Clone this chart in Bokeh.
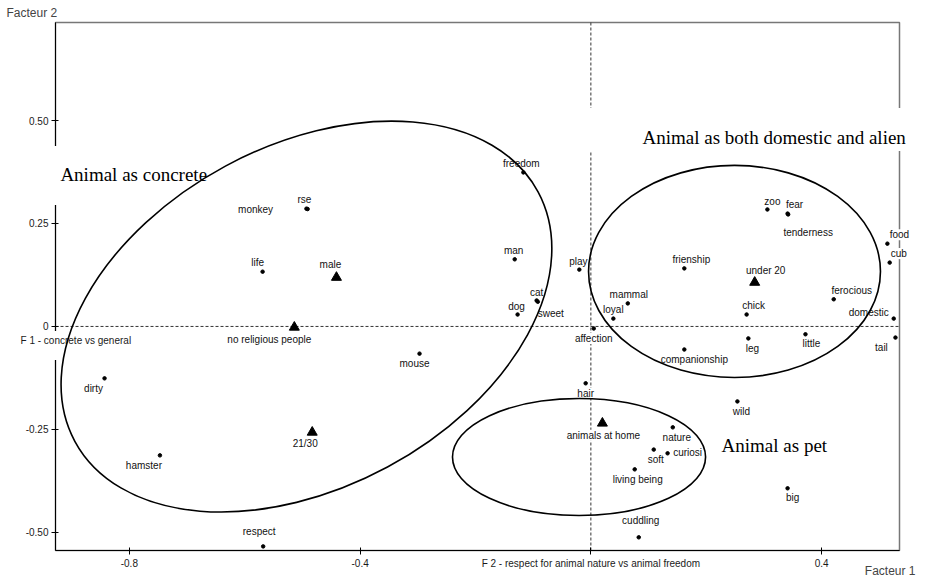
from bokeh.plotting import figure
from bokeh.models import Range1d, FixedTicker, Label, LabelSet, ColumnDataSource
from bokeh.core.properties import value
from bokeh.embed import file_html
from bokeh.resources import INLINE

# ---- data -------------------------------------------------------------
words = ["freedom", "man", "play", "cat", "dog", "sweet", "affection", "loyal", "mammal",
         "frienship", "companionship", "zoo", "fear", "tenderness", "food", "cub",
         "ferocious", "chick", "domestic", "leg", "little", "tail", "hair", "wild",
         "nature", "soft", "curiosi", "living being", "cuddling", "big", "rse", "monkey",
         "life", "mouse", "dirty", "hamster", "respect"]
word_x = [-0.117, -0.132, -0.020, -0.094, -0.127, -0.092, 0.005, 0.039, 0.064,
          0.162, 0.162, 0.306, 0.341, 0.342, 0.514, 0.518,
          0.421, 0.270, 0.525, 0.273, 0.372, 0.528, -0.009, 0.254,
          0.142, 0.109, 0.133, 0.076, 0.083, 0.341, -0.493, -0.491,
          -0.569, -0.297, -0.843, -0.747, -0.568]
word_y = [0.374, 0.163, 0.138, 0.063, 0.029, 0.060, -0.005, 0.019, 0.056,
          0.141, -0.056, 0.284, 0.274, 0.272, 0.201, 0.155,
          0.066, 0.029, 0.019, -0.029, -0.019, -0.027, -0.138, -0.182,
          -0.245, -0.299, -0.308, -0.347, -0.512, -0.393, 0.286, 0.285,
          0.133, -0.066, -0.126, -0.313, -0.534]

groups = ["under 20", "animals at home", "male", "no religious people", "21/30"]
group_x = [0.284, 0.020, -0.441, -0.514, -0.483]
group_y = [0.107, -0.235, 0.119, -0.002, -0.257]

titles = ["Animal as concrete", "Animal as both domestic and alien", "Animal as pet"]
title_x = [-0.9195, 0.0896, 0.2266]
title_y = [0.369, 0.459, -0.289]

ell_x = [-0.493, 0.249, -0.0205]
ell_y = [0.024, 0.1335, -0.317]
ell_w = [0.912, 0.506, 0.4387]
ell_h = [0.830, 0.515, 0.284]
ell_angle = [0.494, 0.0, 0.0]

x_ticks = [-0.8, -0.4, 0, 0.4]
x_tick_labels = ["-0.8", "-0.4", "F 2 - respect for animal nature vs animal freedom", "0.4"]
y_ticks = [0.5, 0.25, 0, -0.25, -0.5]
y_tick_labels = ["0.50", "0.25", "0", "-0.25", "-0.50"]
y_axis_name = "F 1 - concrete vs general"

# plotting box (data limits of the framed area)
X_MIN, X_MAX = -0.928, 0.535
Y_MIN, Y_MAX = -0.544, 0.738

# ---- label placement (screen px, style) ---------------------------------
word_dx = [-2, -1, -1, 0, -1, 13, 0, 0, 1, 7, 10, 5, 7, 20, 12, 9, 18, 7, -25, 4, 6, -14,
           0, 4, 4, 2, 20, 3, 2, 5, -2, -52, -5, -5, -11, -16, -4]
word_dy = [9, 9, 8, 8, 8, -12, -10, 9, 9, 9, -10, 8, 9, -18, 9, 9, 9, 9, 6, -10, -9, -10,
           -10, -10, -10, -10, 1, -10, 17, -9, 9, 0, 9, -10, -10, -10, 15]
group_dx = [11, 1, -6, -25, -7]
group_dy = [12, -12, 13, -12, -11]

SANS = "Liberation Sans"
SERIF = "Liberation Serif"

W, H = 918, 579
BL, BR, BT, BB = 55, 899, 22, 550   # framed box in canvas px
sx = (BR - BL) / (X_MAX - X_MIN)
sy = (BB - BT) / (Y_MAX - Y_MIN)
xr = Range1d(X_MIN - BL / sx, X_MAX + (W - BR) / sx)
yr = Range1d(Y_MIN - (H - BB) / sy, Y_MAX + BT / sy)

p = figure(width=W, height=H, output_backend="svg", toolbar_location=None,
           x_range=xr, y_range=yr, min_border=0,
           min_border_left=0, min_border_right=0, min_border_top=0, min_border_bottom=0,
           outline_line_color=None, background_fill_color="white", border_fill_color="white")
p.grid.visible = False

# frame (top/right edges visible) and zero lines
p.quad(left=[X_MIN], right=[X_MAX], bottom=[Y_MIN], top=[Y_MAX], fill_color=None,
       line_color="#777777", line_width=1.5)
p.segment(x0=[X_MIN, 0], y0=[0, Y_MIN], x1=[X_MAX, 0], y1=[0, Y_MAX],
          line_color="#333333", line_width=1, line_dash="3 2")

# axes placed on the box edges
p.xaxis.fixed_location = Y_MIN
p.yaxis.fixed_location = X_MIN
p.xaxis.bounds = (X_MIN, X_MAX)
p.yaxis.bounds = (Y_MIN, Y_MAX)
for ax in (p.xaxis[0], p.yaxis[0]):
    ax.axis_line_color = "black"
    ax.axis_line_width = 1
    ax.major_tick_line_color = "black"
    ax.major_tick_in = 3
    ax.major_tick_out = 4
    ax.minor_tick_line_color = None
    ax.major_label_text_font = SANS
    ax.major_label_text_font_size = "10px"
    ax.major_label_text_color = "#1a1a1a"
    ax.major_label_standoff = 3
p.xaxis.ticker = FixedTicker(ticks=x_ticks)
p.yaxis.ticker = FixedTicker(ticks=y_ticks)
p.xaxis.major_label_overrides = {t: s for t, s in zip(x_ticks, x_tick_labels)}
p.yaxis.major_label_overrides = {t: s for t, s in zip(y_ticks, y_tick_labels)}

# points
p.scatter(word_x, word_y, marker="circle", size=3.5, color="black")
p.scatter(group_x, group_y, marker="triangle", size=10, color="black")

# point labels
wsrc = ColumnDataSource(dict(x=word_x, y=word_y, t=words, dx=word_dx, dy=word_dy))
gsrc = ColumnDataSource(dict(x=group_x, y=group_y, t=groups, dx=group_dx, dy=group_dy))
for src in (wsrc, gsrc):
    p.add_layout(LabelSet(x="x", y="y", text="t", x_offset="dx", y_offset="dy", source=src,
                          text_align=value("center"), text_baseline=value("middle"),
                          text_font=value(SANS), text_font_size=value("10px"),
                          text_color=value("#111111"),
                          background_fill_color="white"))


def boxed_label(x, y, text, pad, dx=0, dy=0, **kw):
    # compensate the padding so the text itself lands at (x, y) + offsets
    return Label(x=x, y=y, text=text, padding=pad,
                 x_offset=dx - pad["left"], y_offset=dy + (pad["top"] - pad["bottom"]) / 2,
                 text_align="left", text_baseline="middle",
                 background_fill_color="white", **kw)


# group titles
pads = [dict(left=8, right=6, top=18, bottom=20),
        dict(left=54, right=4, top=19, bottom=3),
        dict(left=3, right=3, top=3, bottom=3)]
for t, x, y, pad in zip(titles, title_x, title_y, pads):
    p.add_layout(boxed_label(x, y, t, pad, text_font=SERIF, text_font_size="19px",
                             text_color="black"))

# factor-1 name under the 0 tick
p.add_layout(boxed_label(X_MIN, 0, y_axis_name, dict(left=1, right=1, top=4, bottom=14),
                         dx=-35, dy=-14, text_font=SANS, text_font_size="10px",
                         text_color="#1a1a1a"))

# axis titles (screen units from the canvas bottom-left)
p.add_layout(Label(x=6, y=H - 5, x_units="screen", y_units="screen", text="Facteur 2",
                   text_align="left", text_baseline="top", text_font=SANS,
                   text_font_size="12px", text_color="#444444"))
p.add_layout(Label(x=W - 3, y=2, x_units="screen", y_units="screen", text="Facteur 1",
                   text_align="right", text_baseline="bottom", text_font=SANS,
                   text_font_size="12px", text_color="#444444"))

# ellipses
p.ellipse(ell_x, ell_y, width=ell_w, height=ell_h, angle=ell_angle, fill_color=None,
          line_color="black", line_width=1.6, level="overlay")

open("out.html", "w").write(file_html(p, INLINE))
